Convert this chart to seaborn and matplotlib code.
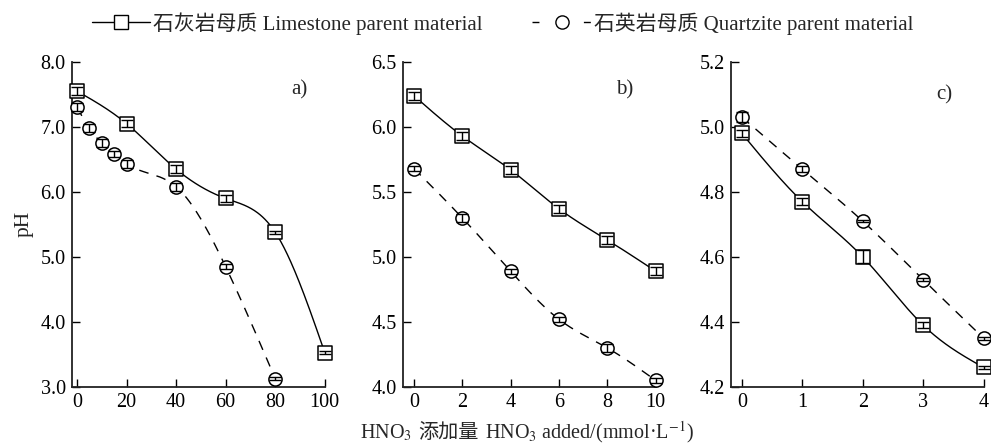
import numpy as np
import pandas as pd
import matplotlib
matplotlib.use("Agg")
import matplotlib.pyplot as plt
from matplotlib.ticker import FormatStrFormatter
from matplotlib.lines import Line2D
import seaborn as sns

# panel a
xa_lime = [0, 20, 40, 60, 80, 100]
ya_lime = [7.55, 7.05, 6.35, 5.90, 5.38, 3.53]
ea_lime = [0.06, 0.05, 0.06, 0.06, 0.02, 0.02]
xa_quar = [0, 5, 10, 15, 20, 40, 60, 80]
ya_quar = [7.30, 6.98, 6.75, 6.58, 6.43, 6.08, 4.85, 3.13]
ea_quar = [0.06, 0.06, 0.06, 0.05, 0.06, 0.06, 0.04, 0.03]

# panel b
xb = [0, 2, 4, 6, 8, 10]
yb_lime = [6.24, 5.93, 5.67, 5.37, 5.13, 4.89]
eb_lime = [0.03, 0.03, 0.03, 0.03, 0.03, 0.03]
yb_quar = [5.68, 5.30, 4.89, 4.52, 4.30, 4.05]
eb_quar = [0.02, 0.03, 0.02, 0.02, 0.03, 0.02]

# panel c
xc = [0, 1, 2, 3, 4]
yc_lime = [4.98, 4.77, 4.60, 4.39, 4.26]
ec_lime = [0.01, 0.01, 0.02, 0.01, 0.005]
yc_quar = [5.03, 4.87, 4.71, 4.53, 4.35]
ec_quar = [0.015, 0.01, 0.004, 0.004, 0.004]

lab_lime = "石灰岩母质 Limestone parent material"
lab_quar = "石英岩母质 Quartzite parent material"
xlabel_parts = ["HNO$_3$", "添加量", "HNO$_3$ added/(mmol·L$^{-1}$)"]


def smooth(x, y, n=300):
    # natural cubic spline through the measured points (display only)
    x = np.asarray(x, float)
    y = np.asarray(y, float)
    m = len(x)
    h = np.diff(x)
    A = np.zeros((m, m))
    r = np.zeros(m)
    A[0, 0] = 1
    A[-1, -1] = 1
    for i in range(1, m - 1):
        A[i, i - 1] = h[i - 1]
        A[i, i] = 2 * (h[i - 1] + h[i])
        A[i, i + 1] = h[i]
        r[i] = 3 * ((y[i + 1] - y[i]) / h[i] - (y[i] - y[i - 1]) / h[i - 1])
    c = np.linalg.solve(A, r)
    b = (y[1:] - y[:-1]) / h - h * (2 * c[:-1] + c[1:]) / 3
    d = (c[1:] - c[:-1]) / (3 * h)
    xs = np.linspace(x[0], x[-1], n)
    k = np.clip(np.searchsorted(x, xs, side="right") - 1, 0, m - 2)
    t = xs - x[k]
    ys = y[k] + b[k] * t + c[k] * t ** 2 + d[k] * t ** 3
    return xs, ys


sns.set_theme(style="ticks")
plt.rcParams["font.family"] = ["Liberation Serif", "Noto Sans CJK SC"]
plt.rcParams["mathtext.fontset"] = "stix"
plt.rcParams["axes.linewidth"] = 1.3
plt.rcParams["xtick.direction"] = "in"
plt.rcParams["ytick.direction"] = "in"

fig = plt.figure(figsize=(9.91, 4.46), dpi=100)
pos = [0.0727, 0.4067, 0.7376]
axes = [fig.add_axes([p, 0.1323, 0.255, 0.729]) for p in pos]


def draw(ax, x, y, e, marker, ls):
    xs, ys = smooth(x, y)
    ax.plot(xs, ys, color="black", lw=1.0, ls=ls, dashes=(7, 6) if ls == "--" else (None, None),
            zorder=1, clip_on=False)
    df = pd.DataFrame({"x": x, "y": y})
    sns.scatterplot(data=df, x="x", y="y", ax=ax, marker=marker, s=90,
                    facecolor="white", edgecolor="black", linewidth=1.1,
                    zorder=3, clip_on=False)
    ax.errorbar(x, y, yerr=e, fmt="none", ecolor="black", elinewidth=1.0,
                capsize=4.2, capthick=1.0, zorder=4, clip_on=False)


panels = [
    (axes[0], xa_lime, ya_lime, ea_lime, xa_quar, ya_quar, ea_quar),
    (axes[1], xb, yb_lime, eb_lime, xb, yb_quar, eb_quar),
    (axes[2], xc, yc_lime, ec_lime, xc, yc_quar, ec_quar),
]
for ax, xl, yl, el, xq, yq, eq in panels:
    draw(ax, xq, yq, eq, "o", "--")
    draw(ax, xl, yl, el, "s", "-")

axes[0].set_xlim(-2, 100)
axes[0].set_ylim(3.0, 8.0)
axes[0].set_xticks([0, 20, 40, 60, 80, 100])
axes[0].set_yticks([3, 4, 5, 6, 7, 8])
axes[1].set_xlim(-0.45, 10)
axes[1].set_ylim(4.0, 6.5)
axes[1].set_xticks([0, 2, 4, 6, 8, 10])
axes[1].set_yticks([4.0, 4.5, 5.0, 5.5, 6.0, 6.5])
axes[2].set_xlim(-0.18, 4)
axes[2].set_ylim(4.2, 5.2)
axes[2].set_xticks([0, 1, 2, 3, 4])
axes[2].set_yticks([4.2, 4.4, 4.6, 4.8, 5.0, 5.2])

for ax, tag, tx, ty in zip(axes, ["a)", "b)", "c)"], [0.93, 0.913, 0.877], [0.914, 0.914, 0.90]):
    sns.despine(ax=ax)
    ax.yaxis.set_major_formatter(FormatStrFormatter("%.1f"))
    ax.tick_params(length=6, width=1.0, labelsize=14.5, colors="black", pad=4.5)
    ax.set_xlabel("")
    ax.set_ylabel("")
    ax.text(tx, ty, tag, transform=ax.transAxes, ha="right", va="center", fontsize=15)
    for s in ax.spines.values():
        s.set_color("#222222")

axes[0].set_ylabel("pH", fontsize=15.5, labelpad=5)

# x label: pieces laid side by side so the CJK part gets its own font
renderer = fig.canvas.get_renderer()
W = fig.bbox.width
texts = [fig.text(0, 0.018, p, fontsize=14.5, va="baseline", ha="left") for p in xlabel_parts]
widths = [t.get_window_extent(renderer).width for t in texts]
gap = 6.0
total = sum(widths) + gap * (len(widths) - 1)
xpix = 527 - total / 2
for t, w in zip(texts, widths):
    t.set_x(xpix / W)
    xpix += w + gap

handles = [
    Line2D([], [], color="black", lw=1.0, marker="s", markersize=9.5,
           markerfacecolor="white", markeredgecolor="black"),
    Line2D([], [], color="black", lw=1.0, ls="--", dashes=(5, 32), marker="o", markersize=9.5,
           markerfacecolor="white", markeredgecolor="black"),
]
fig.legend(handles, [lab_lime, lab_quar], loc="upper center", bbox_to_anchor=(0.507, 1.015),
           ncol=2, frameon=False, fontsize=15, handlelength=2.8, handletextpad=0.15,
           columnspacing=2.4)

fig.savefig("out.png", dpi=100)
